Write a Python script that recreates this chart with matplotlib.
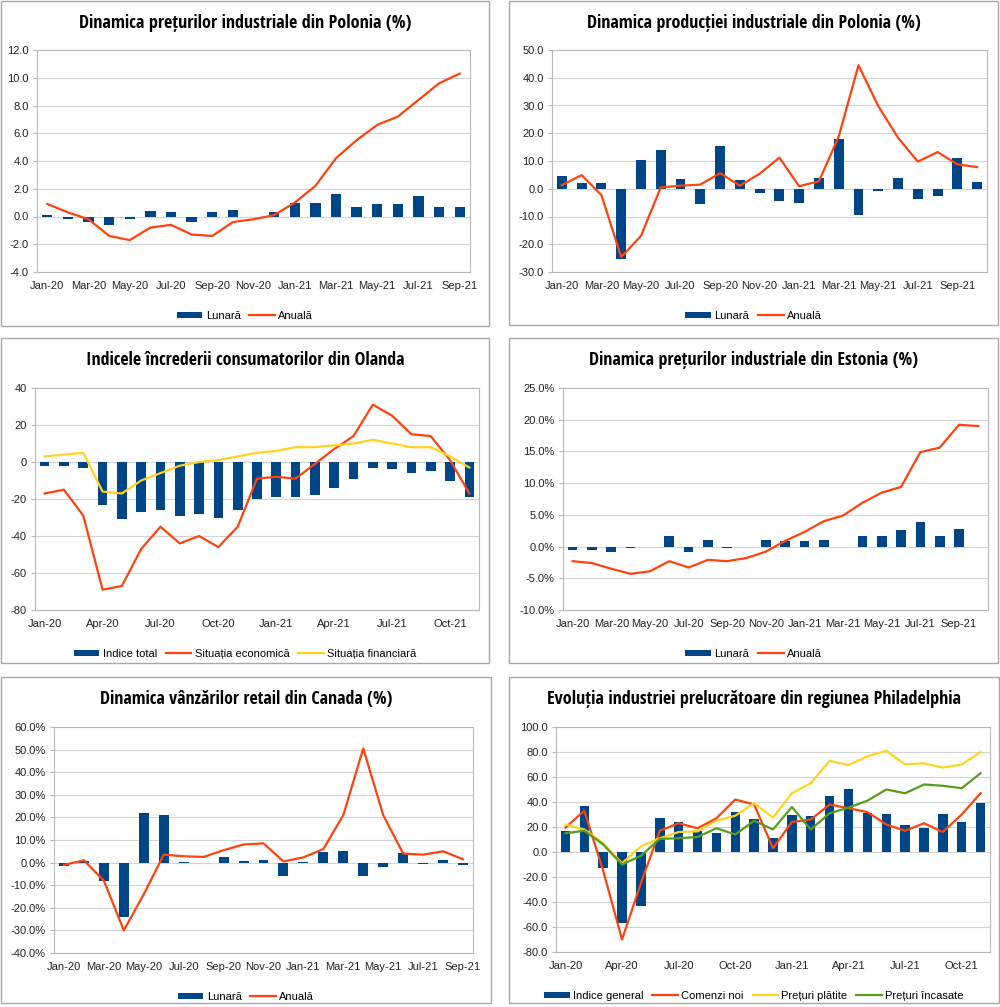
import matplotlib.pyplot as plt
import numpy as np
from matplotlib.patches import Rectangle
from matplotlib.ticker import FuncFormatter, MultipleLocator

luni = ['Jan-20', 'Feb-20', 'Mar-20', 'Apr-20', 'May-20', 'Jun-20', 'Jul-20', 'Aug-20',
        'Sep-20', 'Oct-20', 'Nov-20', 'Dec-20', 'Jan-21', 'Feb-21', 'Mar-21', 'Apr-21',
        'May-21', 'Jun-21', 'Jul-21', 'Aug-21', 'Sep-21', 'Oct-21', 'Nov-21']

# Polonia - preturi industriale (Jan-20 .. Sep-21)
pl_pret_lunara = [0.1, -0.2, -0.4, -0.6, -0.2, 0.4, 0.3, -0.4, 0.3, 0.5, 0.0, 0.3,
                  1.0, 1.0, 1.6, 0.7, 0.9, 0.9, 1.5, 0.7, 0.7]
pl_pret_anuala = [0.9, 0.3, -0.2, -1.4, -1.7, -0.8, -0.6, -1.3, -1.4, -0.4, -0.2, 0.1,
                  1.0, 2.2, 4.2, 5.5, 6.6, 7.2, 8.4, 9.6, 10.3]

# Polonia - productie industriala (Jan-20 .. Oct-21)
pl_prod_lunara = [4.5, 2.2, 2.2, -25.3, 10.3, 13.9, 3.4, -5.5, 15.3, 3.0, -1.5, -4.4,
                  -5.3, 4.0, 18.1, -9.3, -0.8, 4.0, -3.8, -2.5, 11.0, 2.3]
pl_prod_anuala = [1.3, 4.9, -2.3, -24.6, -17.0, 0.5, 1.1, 1.5, 5.6, 1.1, 5.4, 11.2,
                  0.9, 2.7, 18.8, 44.5, 29.8, 18.4, 9.8, 13.2, 8.8, 7.8]

# Olanda - increderea consumatorilor (Jan-20 .. Nov-21)
nl_total = [-2, -2, -3, -23, -31, -27, -26, -29, -28, -30, -26, -20,
            -19, -19, -18, -14, -9, -3, -4, -6, -5, -10, -19]
nl_econ = [-17, -15, -29, -69, -67, -47, -35, -44, -40, -46, -35, -9,
           -8, -9, -1, 7, 14, 31, 25, 15, 14, 1, -17]
nl_fin = [3, 4, 5, -16, -17, -10, -6, -2, 0, 1, 3, 5,
          6, 8, 8, 9, 10, 12, 10, 8, 8, 3, -3]

# Estonia - preturi industriale (Jan-20 .. Oct-21)
ee_lunara = [-0.6, -0.6, -0.8, -0.2, -0.1, 1.7, -0.9, 1.0, -0.3, 0.0, 1.0, 0.8,
             0.8, 1.0, -0.1, 1.6, 1.6, 2.6, 3.9, 1.6, 2.7, -0.1]
ee_anuala = [-2.3, -2.6, -3.5, -4.3, -3.9, -2.3, -3.3, -2.1, -2.3, -1.8, -0.8, 0.9,
             2.3, 4.0, 4.9, 6.9, 8.5, 9.4, 14.9, 15.6, 19.2, 19.0]

# Canada - vanzari retail (Jan-20 .. Sep-21)
ca_lunara = [-1.5, 0.9, -8.0, -24.0, 22.0, 21.2, 0.2, -0.3, 2.3, 0.9, 1.3, -5.8,
             0.1, 4.7, 5.2, -6.0, -2.1, 4.2, -0.5, 1.0, -1.0]
ca_anuala = [-1.0, 1.0, -8.0, -30.0, -14.0, 3.5, 2.8, 2.5, 5.5, 8.0, 8.5, 0.5,
             2.3, 6.0, 21.0, 50.5, 21.0, 4.0, 3.5, 5.0, 1.5]

# Philadelphia - industria prelucratoare (Jan-20 .. Nov-21)
ph_general = [17.0, 36.7, -12.7, -56.6, -43.1, 27.5, 24.1, 17.2, 15.0, 32.3, 26.3, 11.1,
              30.0, 28.5, 44.5, 50.2, 31.5, 30.7, 21.9, 19.4, 30.7, 23.8, 39.0]
ph_comenzi = [19.5, 33.0, -15.0, -70.0, -25.0, 17.0, 23.0, 19.0, 27.0, 42.0, 38.0, 3.0,
              24.0, 26.0, 38.0, 35.0, 32.0, 22.0, 17.0, 23.0, 16.0, 30.0, 47.0]
ph_platite = [22.0, 18.0, 7.0, -9.0, 4.5, 11.0, 16.0, 16.5, 25.0, 29.0, 39.0, 27.5,
              47.0, 55.0, 73.0, 69.5, 76.5, 81.0, 70.0, 71.0, 67.5, 70.0, 80.0]
ph_incasate = [15.0, 17.0, 6.0, -10.0, -3.0, 10.5, 11.0, 12.0, 19.0, 14.0, 25.0, 18.0,
               36.0, 18.0, 31.0, 35.5, 41.0, 50.0, 47.0, 54.0, 53.0, 51.0, 63.0]

BLUE = '#004586'
ORANGE = '#ff420e'
YELLOW = '#ffd320'
GREEN = '#579d1c'
TITLE_FONT = ['Liberation Sans Narrow', 'Open Sans Condensed', 'Roboto Condensed',
              'Noto Sans Condensed', 'DejaVu Sans Condensed', 'Noto Sans', 'DejaVu Sans']
plt.rcParams['font.family'] = ['Liberation Sans', 'DejaVu Sans']

W, H = 1000, 1007
fig = plt.figure(figsize=(W / 100, H / 100), dpi=100)
renderer = fig.canvas.get_renderer()


def box(l, t, r, b):
    return [l / W, 1 - b / H, (r - l) / W, (b - t) / H]


def panel(frame, area, title, title_w, leg_y, bars, lines, ylim, step, fmt, every):
    l, t, r, b = frame
    fig.add_artist(Rectangle((l / W, 1 - b / H), (r - l) / W, (b - t) / H,
                             transform=fig.transFigure, fill=False, ec='#a8a8a8', lw=1))
    ax = fig.add_axes(box(*area))
    n = len(bars[1])
    x = np.arange(n)
    handles = [ax.bar(x, bars[1], width=0.5, color=BLUE, label=bars[0], zorder=2)]
    for name, vals, col in lines:
        handles += ax.plot(x, vals, color=col, lw=1.6, label=name, zorder=3)
    ax.set_xlim(-0.5, n - 0.5)
    ax.set_ylim(*ylim)
    ax.yaxis.set_major_locator(MultipleLocator(step))
    ax.yaxis.set_major_formatter(FuncFormatter(fmt))
    ax.set_xticks(x[::every])
    ax.set_xticklabels(luni[:n:every])
    ax.grid(axis='y', color='#d4d4d4', lw=0.8)
    ax.set_axisbelow(True)
    for s in ax.spines.values():
        s.set_color('#b8b8b8')
        s.set_linewidth(0.8)
    ax.tick_params(axis='x', length=0, pad=6.5, labelsize=8, labelcolor='#222222')
    ax.tick_params(axis='y', length=3, color='#b8b8b8', pad=3, labelsize=8, labelcolor='#222222')
    cx = (l + r) / 2 / W
    txt = fig.text(cx, 1 - (t + 22) / H, title, ha='center', va='center', fontsize=16,
                   fontweight='bold', fontstretch='condensed', family=TITLE_FONT)
    w = txt.get_window_extent(renderer=renderer).width
    if w > title_w:
        txt.set_fontsize(16 * title_w / w)
    ax.legend(handles=handles, loc='center', bbox_to_anchor=(cx, 1 - leg_y / H),
              bbox_transform=fig.transFigure, ncol=len(handles), frameon=False, fontsize=8,
              handlelength=2.3, handleheight=0.55, handletextpad=0.3, columnspacing=0.8,
              borderpad=0)
    return ax


f1 = lambda v, p: f'{v:.1f}'
f0 = lambda v, p: f'{v:.0f}'
fp = lambda v, p: f'{v:.1f}%'

panel((1, 1, 489, 326), (37, 50, 470, 272), 'Dinamica prețurilor industriale din Polonia (%)', 334, 316,
      ('Lunară', pl_pret_lunara), [('Anuală', pl_pret_anuala, ORANGE)], (-4, 12), 2, f1, 2)
panel((509, 1, 998, 325), (552, 50, 987, 272), 'Dinamica producției industriale din Polonia (%)', 337, 316,
      ('Lunară', pl_prod_lunara), [('Anuală', pl_prod_anuala, ORANGE)], (-30, 50), 10, f1, 2)
panel((1, 338, 489, 663), (35, 388, 479, 610), 'Indicele încrederii consumatorilor din Olanda', 320, 654,
      ('Indice total', nl_total), [('Situația economică', nl_econ, ORANGE),
                                   ('Situația financiară', nl_fin, YELLOW)], (-80, 40), 20, f0, 3)
panel((509, 338, 998, 663), (563, 388, 988, 610), 'Dinamica prețurilor industriale din Estonia (%)', 331, 654,
      ('Lunară', ee_lunara), [('Anuală', ee_anuala, ORANGE)], (-10, 25), 5, fp, 2)
panel((1, 677, 491, 1003), (54, 727, 473, 953), 'Dinamica vânzărilor retail din Canada (%)', 293, 997,
      ('Lunară', ca_lunara), [('Anuală', ca_anuala, ORANGE)], (-40, 60), 10, fp, 2)
panel((509, 677, 999, 1003), (556, 727, 990, 952),
      'Evoluția industriei prelucrătoare din regiunea Philadelphia', 418, 996,
      ('Indice general', ph_general), [('Comenzi noi', ph_comenzi, ORANGE),
                                       ('Prețuri plătite', ph_platite, YELLOW),
                                       ('Prețuri încasate', ph_incasate, GREEN)], (-80, 100), 20, f1, 3)

fig.savefig('out.png', dpi=100, facecolor='white')
